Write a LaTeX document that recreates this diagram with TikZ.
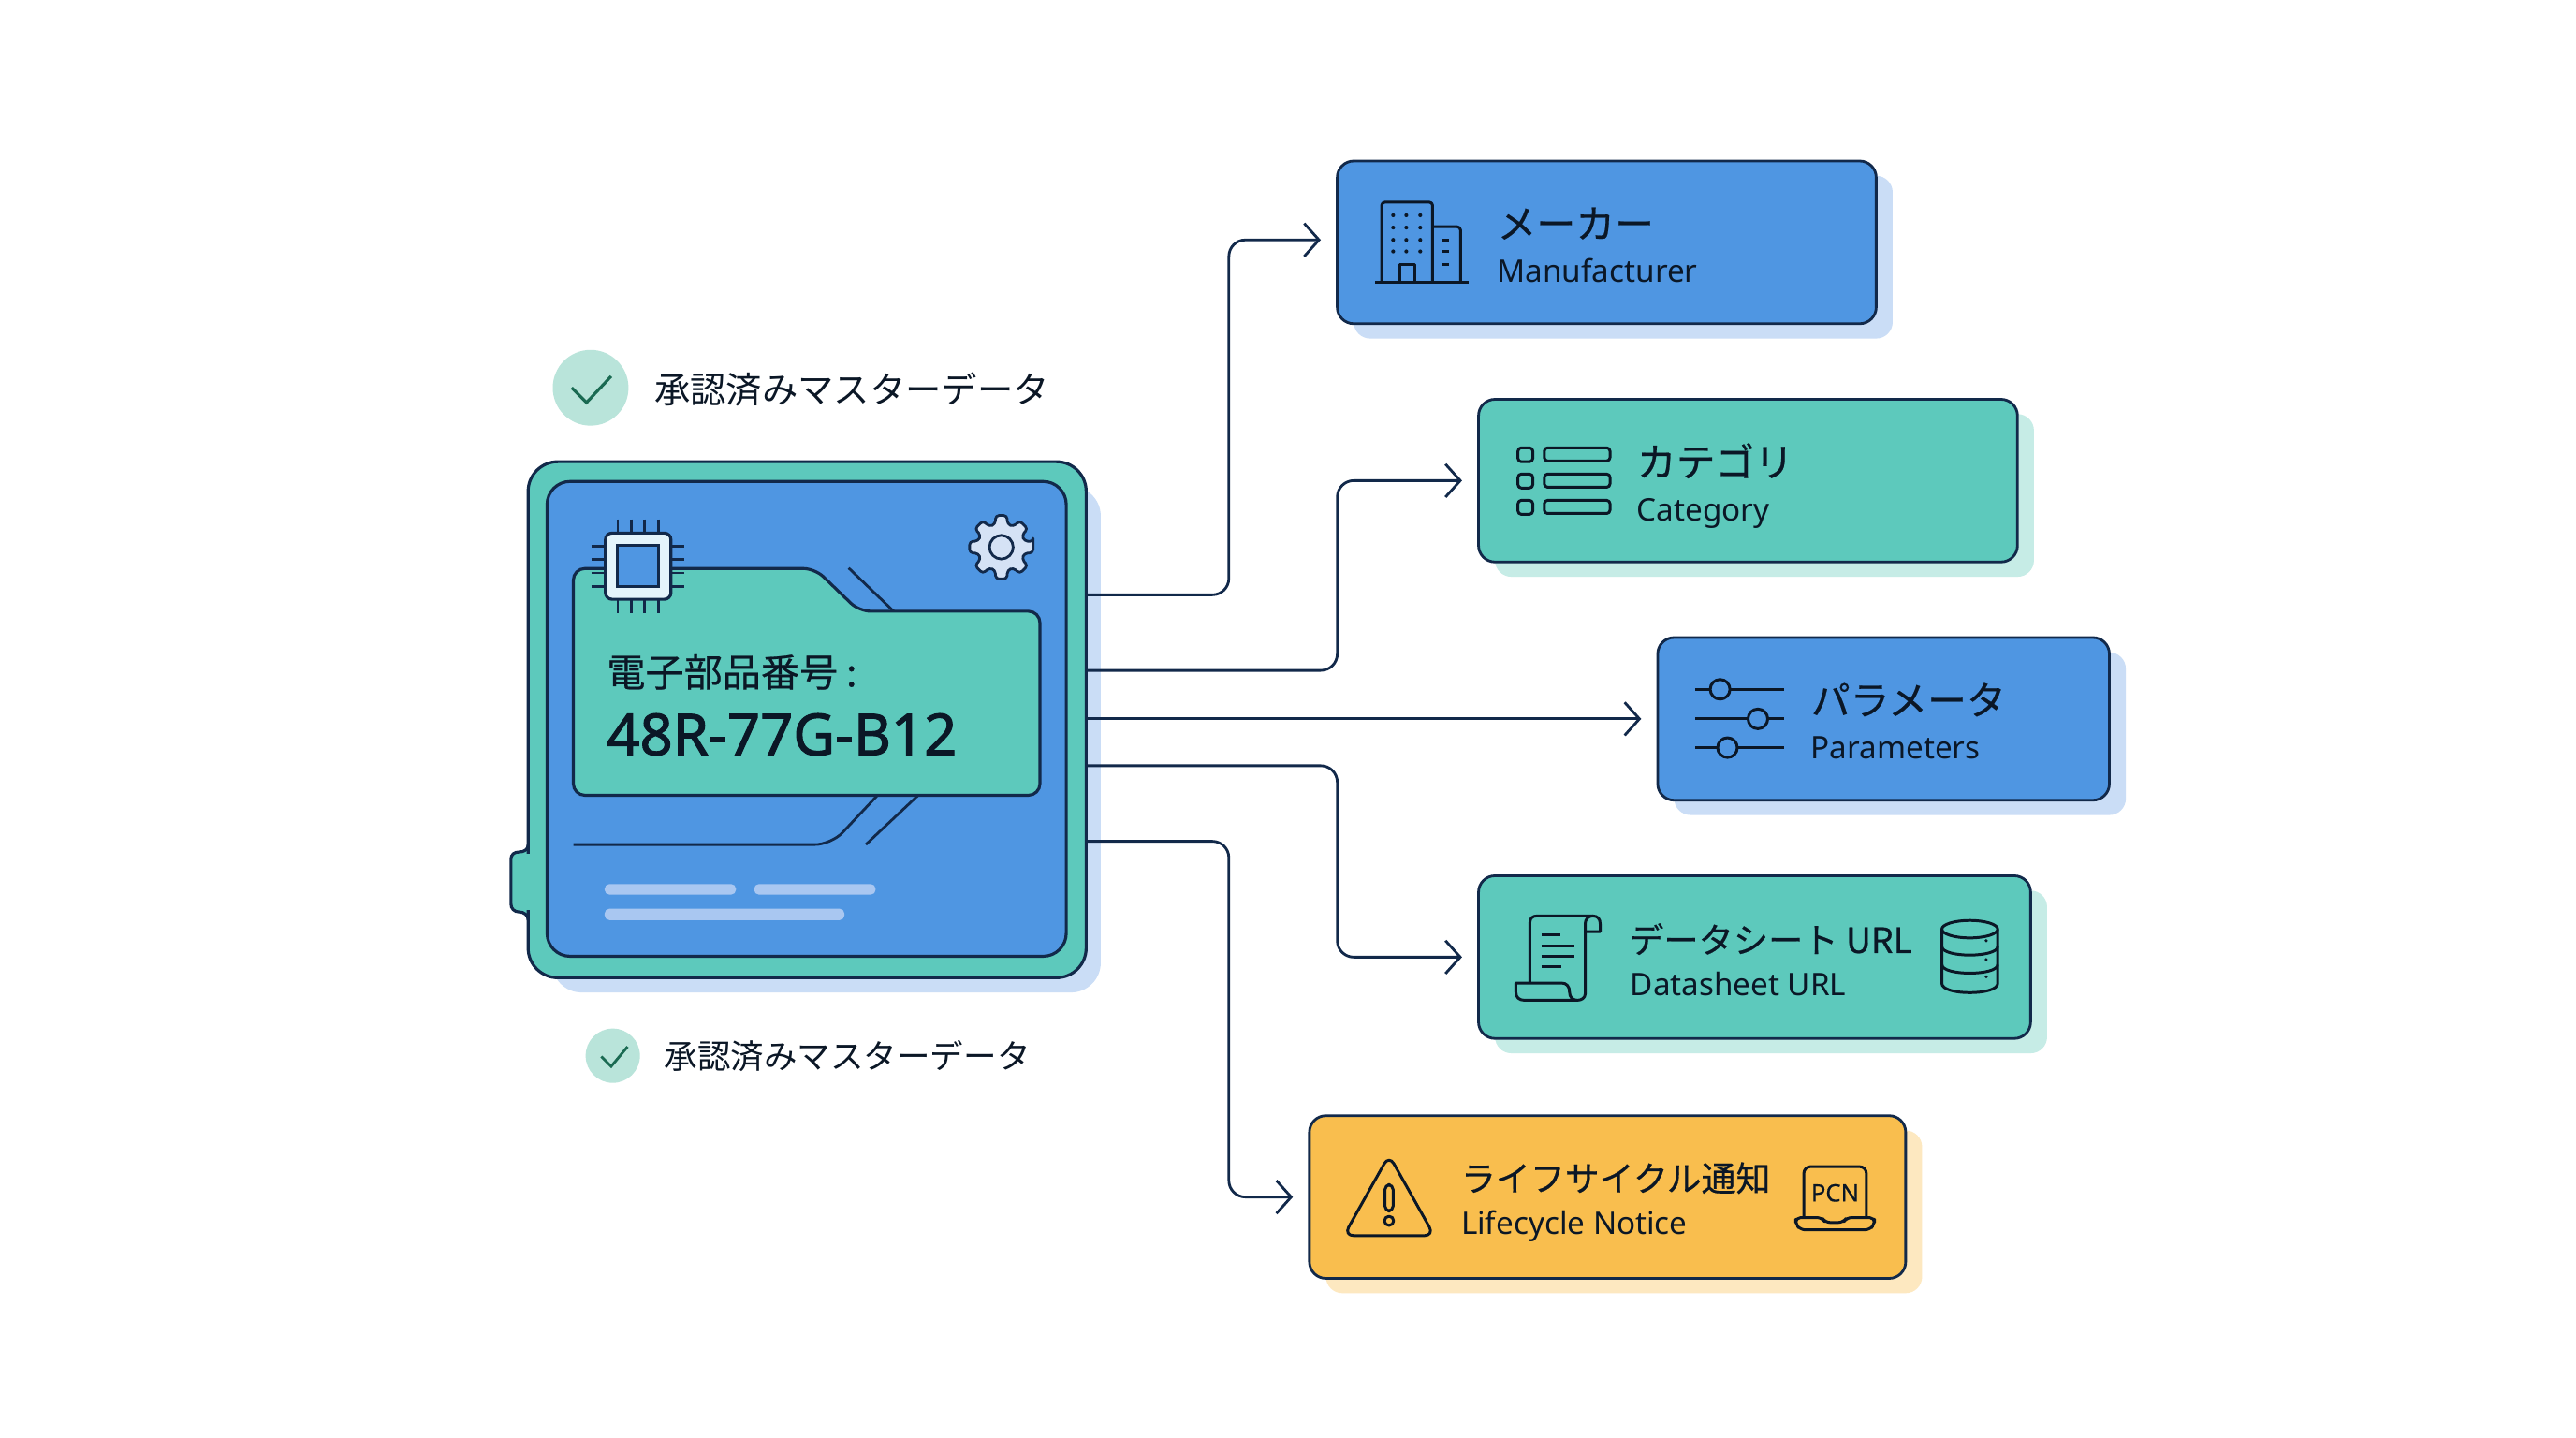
\documentclass[tikz,border=0pt]{standalone}
\usepackage{fontspec}
\setmainfont{Noto Sans}
\newfontfamily\jpfont{Noto Sans CJK JP}
\newfontfamily\jptitle[FakeBold=0.5]{Noto Sans CJK JP}
\newfontfamily\numfont[FakeBold=1.6]{Noto Sans}
\newfontfamily\pcnfont[FakeBold=0.5]{Noto Sans}
\usetikzlibrary{positioning,calc,shadows,arrows.meta}

\definecolor{inkline}{HTML}{12294A}
\definecolor{inktext}{HTML}{0B1726}
\definecolor{cardblue}{HTML}{4F96E2}
\definecolor{cardteal}{HTML}{5DC9BC}
\definecolor{cardamber}{HTML}{F9BE4E}
\definecolor{shadeblue}{HTML}{CADDF6}
\definecolor{shadeteal}{HTML}{C6ECE6}
\definecolor{shadeamber}{HTML}{FDE8C0}
\definecolor{barblue}{HTML}{A9C7F1}
\definecolor{chipwhite}{HTML}{E4F4FB}
\definecolor{gearpale}{HTML}{D5E2F5}
\definecolor{okfill}{HTML}{B9E4DA}
\definecolor{oktick}{HTML}{1A6A52}

\tikzset{
  cardbox/.style={minimum height=49.4pt,inner sep=0pt,outer sep=0pt,draw=inkline,line width=.8pt,rounded corners=5pt},
  bluecard/.style={cardbox,fill=cardblue,general shadow={shadow xshift=5pt,shadow yshift=-4.5pt,fill=shadeblue}},
  tealcard/.style={cardbox,fill=cardteal,general shadow={shadow xshift=5pt,shadow yshift=-4.5pt,fill=shadeteal}},
  ambercard/.style={cardbox,fill=cardamber,general shadow={shadow xshift=5pt,shadow yshift=-4.5pt,fill=shadeamber}},
  cardtitle/.style={anchor=west,inner sep=0pt,text=inktext,font=\fontsize{11.9}{14}\jptitle,text height=9pt,text depth=2pt},
  cardsub/.style={anchor=west,inner sep=0pt,text=inktext,font=\fontsize{9.45}{12}\selectfont,text height=7pt,text depth=2pt},
  oktext/.style={anchor=west,inner sep=0pt,text=inktext},
  link/.style={draw=inkline,line width=.8pt,rounded corners=5pt,-{Straight Barb[length=4.5pt,width=10pt,line width=.8pt]},shorten >=5pt},
  icon/.style={draw=inktext,line width=.85pt,line join=round},
  trace/.style={draw=inkline,line width=.8pt},
  pin/.style={draw=inkline,line width=.75pt},
}

\begin{document}
\begin{tikzpicture}[x=.499pt,y=-.499pt]
	\useasboundingbox [fill=white] (0,0) rectangle (1568,875);

	% approval badges
	\node [circle,fill=okfill,minimum size=23pt,inner sep=0pt] (okA) at (359.5,236) {};
	\draw [oktick,line width=.9pt] (348,236) -- (357,245) -- (372,229);
	\node [oktext,font=\fontsize{10.9}{13}\jpfont] (okAtext) at (398,237) {承認済みマスターデータ};
	\node [circle,fill=okfill,minimum size=16.5pt,inner sep=0pt] (okB) at (373,642.5) {};
	\draw [oktick,line width=.8pt] (366,643) -- (372,649) -- (382,637);
	\node [oktext,font=\fontsize{10.1}{12}\jpfont] (okBtext) at (404,642.5) {承認済みマスターデータ};

	% part card
	\fill [shadeblue,rounded corners=9pt] (336,296) rectangle (670,604);
	\draw [fill=cardteal,draw=inkline,line width=.9pt] (321.5,514) .. controls (321.5,517) and (319,518.5) .. (316,518.5) .. controls (313,518.5) and (311,520) .. (311,523) -- (311,550) .. controls (311,553) and (313,555) .. (316,555) .. controls (319,555) and (321.5,557) .. (321.5,560);
	\node [fill=cardteal,draw=inkline,line width=.9pt,rounded corners=9pt,inner sep=0pt,outer sep=0pt,minimum width=169.5pt,minimum height=156.7pt] (part) at (491.3,438) {};
	\fill [cardteal] (316,519.5) rectangle (323.5,554);
	\node [fill=cardblue,draw=inkline,line width=.9pt,rounded corners=7pt,inner sep=0pt,minimum width=157.7pt,minimum height=144.2pt] (partinner) at (491,437.5) {};
	\coordinate (port1) at (661,362);
	\coordinate (port2) at (661,408);
	\coordinate (port3) at (661,437.5);
	\coordinate (port4) at (661,466);
	\coordinate (port5) at (661,512);

	% traces behind the folder
	\draw [trace] (516.6,345.7) -- (545,373);
	\draw [trace,rounded corners=5pt] (349,514) -- (506,514) -- (536,482);
	\draw [trace] (527,514) -- (561,482);

	% folder
	\draw [fill=cardteal,draw=inkline,line width=.9pt,rounded corners=3.5pt] (349,484) -- (349,346) -- (496,346) -- (523,372) -- (633,372) -- (633,484) -- cycle;
	\node [anchor=west,inner sep=0pt,text=inktext,font=\fontsize{11.7}{14}\jptitle] (partlabel) at (369,409) {電子部品番号\hspace{2.5pt}:};
	\node [anchor=west,inner sep=0pt,text=inktext,font=\fontsize{17.5}{20}\numfont] (partnumber) at (369,447) {48R-77G-B12};

	% chip
	\foreach \i in {376,384.3,392.4,400.8}
		\draw [pin] (\i,316) -- (\i,373);
	\foreach \j in {332.4,340.6,348.7,357.1}
		\draw [pin] (360,\j) -- (416.5,\j);
	\draw [fill=chipwhite,draw=inkline,line width=.9pt,rounded corners=2pt] (368.5,324.4) rectangle (408.4,364.7);
	\draw [fill=cardblue,draw=inkline,line width=.9pt] (375.7,332) rectangle (400.8,357);

	% gear
	\draw [fill=gearpale,draw=inkline,line width=.8pt,line join=round,rounded corners=1pt,shift={(609.5,333)}]
		(-10:19.6) \foreach \a in {0,45,...,315} {
			-- ({\a-10}:19.6) -- ({\a+10}:19.6) -- ({\a+15}:14.5) -- ({\a+30}:14.5)
		} -- cycle;
	\draw [draw=inkline,line width=.8pt] (609.5,333) circle (7.2);

	% bars
	\fill [barblue,rounded corners=1.5pt] (368,538) rectangle (448,544.5);
	\fill [barblue,rounded corners=1.5pt] (459,538) rectangle (533,544.5);
	\fill [barblue,rounded corners=1.5pt] (368,553) rectangle (514,560);

	% output cards
	\node [bluecard,minimum width=163.7pt] (mfr) at (978,147.5) {};
	\node [tealcard,minimum width=163.7pt] (cat) at (1064,292.5) {};
	\node [bluecard,minimum width=137.2pt] (param) at (1146.5,437.5) {};
	\node [tealcard,minimum width=167.7pt] (sheet) at (1068,582.5) {};
	\node [ambercard,minimum width=181.1pt] (notice) at (978.5,728.5) {};

	\node [cardtitle] (mfrtitle) at (911,138) {メーカー};
	\node [cardsub] (mfrsub) at (911,167) {Manufacturer};
	\node [cardtitle] (cattitle) at (996,283) {カテゴリ};
	\node [cardsub] (catsub) at (996,312) {Category};
	\node [cardtitle] (paramtitle) at (1102,428) {パラメータ};
	\node [cardsub] (paramsub) at (1102,457) {Parameters};
	\node [cardtitle,font=\fontsize{10.6}{14}\jptitle] (sheettitle) at (991,573) {データシート URL};
	\node [cardsub] (sheetsub) at (992,601) {Datasheet URL};
	\node [cardtitle,font=\fontsize{10.5}{14}\jptitle] (noticetitle) at (889,718) {ライフサイクル通知};
	\node [cardsub] (noticesub) at (889,746) {Lifecycle Notice};

	% connectors
	\coordinate (busA) at (748,437.5);
	\coordinate (busB) at (814,437.5);
	\coordinate (mfrin) at ([yshift=.75pt]mfr.west);
	\draw [link] (port1) -| (busA |- mfrin) -- (mfrin);
	\draw [link] (port2) -| (busB |- cat.west) -- (cat.west);
	\draw [link] (port3) -- (param.west);
	\draw [link] (port4) -| (busB |- sheet.west) -- (sheet.west);
	\draw [link] (port5) -| (busA |- notice.west) -- (notice.west);

	% building
	\draw [icon,rounded corners=1pt] (841,172) -- (841,123) -- (872,123) -- (872,172);
	\draw [icon,rounded corners=1pt] (872,138) -- (889,138) -- (889,172);
	\draw [icon] (837,172) -- (894,172);
	\draw [icon] (852,172) -- (852,161) -- (861,161) -- (861,172);
	\foreach \j in {131,138.5,146,153}
		\foreach \i in {848,856,864.5}
			\fill [inktext] (\i,\j) circle (1.2);
	\foreach \j in {146,153,161}
		\draw [icon] (878,\j) -- (882,\j);

	% list
	\foreach \j in {272.5,288.5,304.5} {
		\draw [icon,rounded corners=1pt] (924,\j) rectangle (933,\j+8.5);
		\draw [icon,rounded corners=1pt] (940,\j) rectangle (980,\j+8);
	}

	% sliders
	\foreach \j/\k in {419.5/1047,437.5/1070,455/1051.5} {
		\draw [icon] (1032,\j) -- (1086,\j);
		\draw [icon,fill=cardblue] (\k,\j) circle (6);
	}

	% scroll
	\begin{scope}[shift={(911.7,541.3)},x=.0948pt,y=-.0948pt]
		\draw [icon] (103,300) -- (103,105) .. controls (103,92) and (112,85) .. (125,85) -- (305,85) .. controls (320,85) and (328,95) .. (328,110) -- (328,135) -- (280,135);
		\draw [icon] (305,85) .. controls (290,85) and (280,95) .. (280,110) -- (280,335) .. controls (280,347) and (268,355) .. (255,355) -- (85,355) .. controls (68,355) and (58,345) .. (58,330) -- (58,300) -- (205,300) .. controls (220,300) and (230,310) .. (230,330) .. controls (230,345) and (240,355) .. (255,355);
		\foreach \j/\k in {145/200,180/245,213/245,248/203}
			\draw [icon] (140,\j) -- (\k,\j);
	\end{scope}

	% database
	\draw [icon] (1199,565.5) ellipse (17 and 5.3);
	\draw [icon] (1182,565.5) -- (1182,598.5) .. controls (1182,606) and (1216,606) .. (1216,598.5) -- (1216,565.5);
	\draw [icon] (1182,576) .. controls (1182,583) and (1216,583) .. (1216,576);
	\draw [icon] (1182,587) .. controls (1182,594) and (1216,594) .. (1216,587);
	\foreach \j in {572.5,584,594.5}
		\fill [inktext] (1209,\j) circle (1);

	% warning
	\draw [icon,rounded corners=3pt] (845.5,703) -- (873,752) -- (818,752) -- cycle;
	\draw [icon,rounded corners=1.5pt] (843,721) rectangle (848,737);
	\draw [icon] (845.5,743) circle (2.8);

	% pcn laptop
	\draw [icon,rounded corners=2pt] (1098,741) -- (1098,710) -- (1136,710) -- (1136,741);
	\draw [icon,rounded corners=1.5pt] (1093,741) -- (1109,741) -- (1111,744) -- (1122,744) -- (1124,741) -- (1141,741) -- (1141,745) -- (1138,748.5) -- (1096,748.5) -- (1093,745) -- cycle;
	\node [inner sep=0pt,text=inktext,font=\fontsize{7.3}{9}\pcnfont] (pcn) at (1117,726) {PCN};
\end{tikzpicture}
\end{document}
